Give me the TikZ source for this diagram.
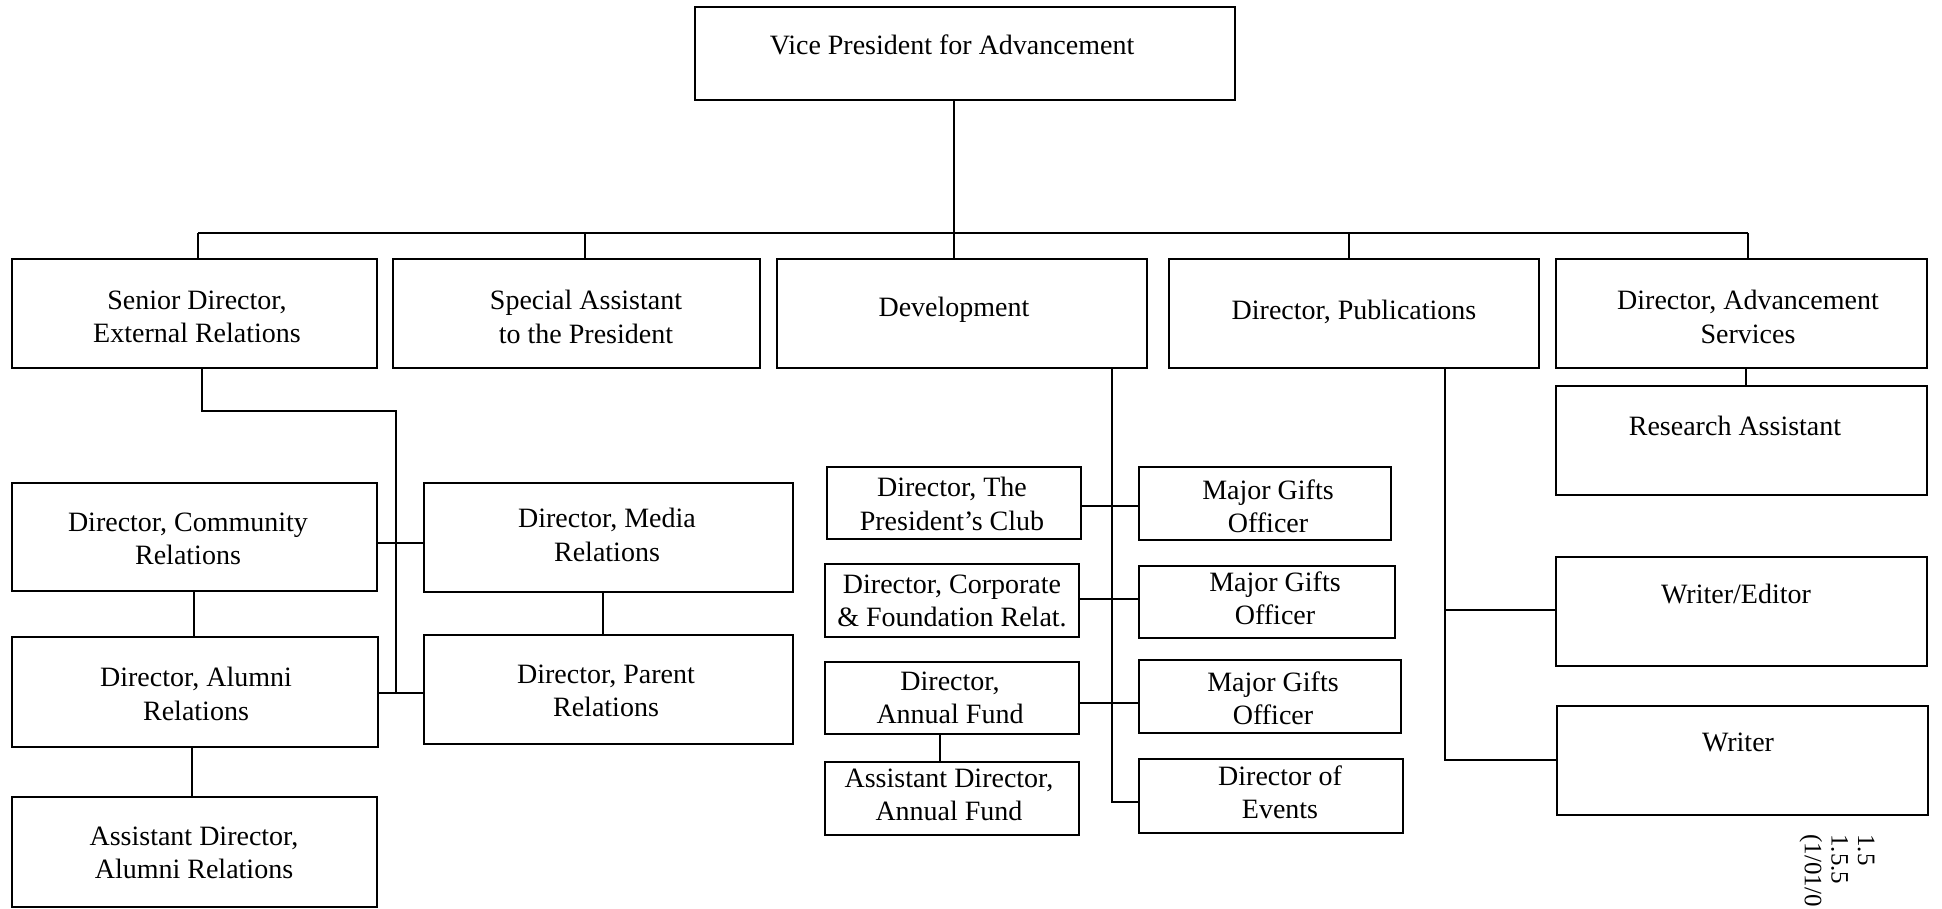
\documentclass[tikz,border=0pt]{standalone}
\usepackage{fontspec}
\setmainfont{Liberation Serif}
\usetikzlibrary{calc}

% one unit = 0.5pt, y grows downward
\tikzset{
  x=0.5pt, y=-0.5pt,
  orgbox/.style={draw, rectangle, line width=1.1pt, inner sep=0pt},
  lbl/.style={align=center, inner sep=0pt, font=\fontsize{14}{16.7}\selectfont},
  link/.style={line width=0.8pt},
  stamp/.style={align=left, inner sep=0pt, rotate=-90, anchor=north west,
                font=\fontsize{12.5}{13.3}\selectfont}
}

% \orgbox{name}{x1}{y1}{x2}{y2}
\newcommand{\orgbox}[5]{%
  \pgfmathsetmacro{\obW}{(#4-#2)*0.5}%
  \pgfmathsetmacro{\obH}{(#5-#3)*0.5}%
  \pgfmathsetmacro{\obX}{(#2+#4)/2}%
  \pgfmathsetmacro{\obY}{(#3+#5)/2}%
  \node[orgbox, minimum width=\obW pt, minimum height=\obH pt] (#1) at (\obX,\obY) {};}

\begin{document}
\begin{tikzpicture}
\useasboundingbox (0,0) rectangle (1942,909);

% ---- boxes ----
\orgbox{vp}{695}{7}{1235}{100}
\orgbox{sr}{12}{259}{377}{368}
\orgbox{sa}{393}{259}{760}{368}
\orgbox{dev}{777}{259}{1147}{368}
\orgbox{pub}{1169}{259}{1539}{368}
\orgbox{adv}{1556}{259}{1927}{368}

\orgbox{com}{12}{483}{377}{591}
\orgbox{med}{424}{483}{793}{592}
\orgbox{alu}{12}{637}{378}{747}
\orgbox{par}{424}{635}{793}{744}
\orgbox{aal}{12}{797}{377}{907}

\orgbox{pc}{827}{467}{1081}{539}
\orgbox{mg1}{1139}{467}{1391}{540}
\orgbox{cf}{825}{564}{1079}{637}
\orgbox{mg2}{1139}{566}{1395}{638}
\orgbox{af}{825}{662}{1079}{734}
\orgbox{mg3}{1139}{660}{1401}{733}
\orgbox{aaf}{825}{762}{1079}{835}
\orgbox{ev}{1139}{759}{1403}{833}

\orgbox{ra}{1556}{386}{1927}{495}
\orgbox{we}{1556}{557}{1927}{666}
\orgbox{wr}{1557}{706}{1928}{815}

% ---- labels ----
\node[lbl] (t-vp)  at (952,45)   {Vice President for Advancement};
\node[lbl] (t-sr)  at (197,317)  {Senior Director,\\External Relations};
\node[lbl] (t-sa)  at (586,317)  {Special Assistant\\to the President};
\node[lbl] (t-dev) at (954,310)  {Development};
\node[lbl] (t-pub) at (1354,312) {Director, Publications};
\node[lbl] (t-adv) at (1748,317) {Director, Advancement\\Services};

\node[lbl] (t-com) at (188,539)  {Director, Community\\Relations};
\node[lbl] (t-med) at (607,535)  {Director, Media\\Relations};
\node[lbl] (t-alu) at (196,694)  {Director, Alumni\\Relations};
\node[lbl] (t-par) at (606,691)  {Director, Parent\\Relations};
\node[lbl] (t-aal) at (194,853)  {Assistant Director,\\Alumni Relations};

\node[lbl] (t-pc)  at (952,504)  {Director, The\\President’s Club};
\node[lbl] (t-mg1) at (1268,506) {Major Gifts\\Officer};
\node[lbl] (t-cf)  at (952,601)  {Director, Corporate\\\& Foundation Relat.};
\node[lbl] (t-mg2) at (1275,598) {Major Gifts\\Officer};
\node[lbl] (t-af)  at (950,698)  {Director,\\Annual Fund};
\node[lbl] (t-mg3) at (1273,698) {Major Gifts\\Officer};
\node[lbl] (t-aaf) at (949,795)  {Assistant Director,\\Annual Fund};
\node[lbl] (t-ev)  at (1280,792) {Director of\\Events};

\node[lbl] (t-ra)  at (1735,426) {Research Assistant};
\node[lbl] (t-we)  at (1736,594) {Writer/Editor};
\node[lbl] (t-wr)  at (1738,742) {Writer};

\node[stamp] (st) at (1875,834) {1.5\\1.5.5\\(1/01/0};

% ---- connectors ----
% top level bar
\coordinate (d1) at (198,233);
\coordinate (d2) at (585,233);
\coordinate (d3) at (954,233);
\coordinate (d4) at (1349,233);
\coordinate (d5) at (1748,233);
\draw[link] (vp.south -| d3) -- (d3);
\draw[link] (d1) -- (d5);
\draw[link] (d1) -- (sr.north -| d1);
\draw[link] (d2) -- (sa.north -| d2);
\draw[link] (d3) -- (dev.north -| d3);
\draw[link] (d4) -- (pub.north -| d4);
\draw[link] (d5) -- (adv.north -| d5);

% external relations group
\coordinate (e1) at (202,411);
\coordinate (e2) at (396,411);
\coordinate (h1) at (396,543);
\coordinate (h2) at (396,693);
\draw[link] (sr.south -| e1) -- (e1) -- (e2) -- (h2);
\draw[link] (com.east |- h1) -- (med.west |- h1);
\draw[link] (alu.east |- h2) -- (par.west |- h2);
\coordinate (v1) at (194,0);
\coordinate (v2) at (603,0);
\coordinate (v3) at (192,0);
\draw[link] (com.south -| v1) -- (alu.north -| v1);
\draw[link] (med.south -| v2) -- (par.north -| v2);
\draw[link] (alu.south -| v3) -- (aal.north -| v3);

% development group
\coordinate (s1) at (1112,506);
\coordinate (s2) at (1112,599);
\coordinate (s3) at (1112,703);
\coordinate (s4) at (1112,802);
\draw[link] (dev.south -| s4) -- (s4) -- (ev.west |- s4);
\draw[link] (pc.east |- s1) -- (mg1.west |- s1);
\draw[link] (cf.east |- s2) -- (mg2.west |- s2);
\draw[link] (af.east |- s3) -- (mg3.west |- s3);
\coordinate (v4) at (940,0);
\draw[link] (af.south -| v4) -- (aaf.north -| v4);

% publications group
\coordinate (p1) at (1445,610);
\coordinate (p2) at (1445,760);
\draw[link] (pub.south -| p2) -- (p2) -- (wr.west |- p2);
\draw[link] (p1) -- (we.west |- p1);

% advancement services
\coordinate (v5) at (1746,0);
\draw[link] (adv.south -| v5) -- (ra.north -| v5);
\end{tikzpicture}
\end{document}
